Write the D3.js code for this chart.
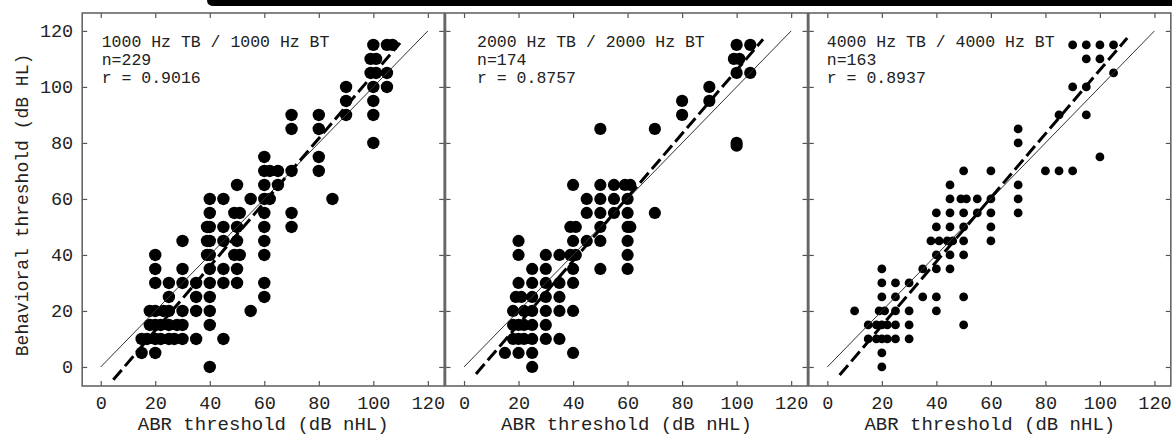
<!DOCTYPE html>
<html><head><meta charset="utf-8">
<script src="https://cdn.jsdelivr.net/npm/d3@7/dist/d3.min.js"></script>
<style>body{margin:0;background:#fff;} svg{display:block;}</style>
</head><body>
<script>
// ---- data ----
const panelTitles = ["1000 Hz TB / 1000 Hz BT", "2000 Hz TB / 2000 Hz BT", "4000 Hz TB / 4000 Hz BT"];
const sampleSizes = ["n=229", "n=174", "n=163"];
const correlations = ["r = 0.9016", "r = 0.8757", "r = 0.8937"];
const xTicks = [0, 20, 40, 60, 80, 100, 120];
const yTicks = [0, 20, 40, 60, 80, 100, 120];
const xLabel = "ABR threshold (dB nHL)";
const yLabel = "Behavioral threshold (dB HL)";

// [ABR threshold, behavioral threshold]
const points1000 = [
  [100,115],[105,115],[107,115],[99,110],[101,110],[99,105],[101,105],[105,105],
  [100,100],[105,100],[90,100],[90,95],[100,95],[90,90],[100,90],[80,90],[70,90],
  [80,85],[70,85],[100,80],[80,75],[60,75],[80,70],[70,70],[65,70],[60,70],[62,70],
  [65,65],[60,65],[50,65],[85,60],[60,60],[62,60],[55,60],[45,60],[40,60],
  [70,55],[60,55],[49,55],[51,55],[40,55],[70,50],[60,50],[50,50],[45,50],[40,50],[39,50],
  [60,45],[50,45],[45,45],[40,45],[39,45],[30,45],
  [60,40],[49,40],[51,40],[40,40],[39,40],[20,40],
  [50,35],[45,35],[40,35],[30,35],[20,35],
  [60,30],[50,30],[45,30],[40,30],[35,30],[30,30],[25,30],[20,30],
  [60,25],[40,25],[35,25],[25,25],
  [55,20],[40,20],[35,20],[30,20],[25,20],[23,20],[20,20],[18,20],
  [40,15],[30,15],[28,15],[25,15],[22,15],[20,15],[18,15],
  [45,10],[35,10],[30,10],[27,10],[25,10],[22,10],[20,10],[17,10],[15,10],
  [20,5],[15,5],[40,0]
];
const points2000 = [
  [100,115],[105,115],[99,110],[101,110],[100,105],[105,105],[90,100],[90,95],[80,95],
  [80,90],[50,85],[70,85],[100,80],[100,79],
  [40,65],[50,65],[55,65],[59,65],[61,65],[45,60],[50,60],[55,60],[60,60],
  [45,55],[50,55],[55,55],[60,55],[70,55],[39,50],[41,50],[50,50],[60,50],[61,50],
  [40,45],[45,45],[50,45],[60,45],[20,45],
  [20,40],[30,40],[35,40],[39,40],[41,40],[60,40],
  [25,35],[30,35],[40,35],[50,35],[60,35],
  [20,30],[25,30],[30,30],[35,30],[40,30],
  [19,25],[21,25],[25,25],[30,25],[35,25],
  [18,20],[22,20],[25,20],[30,20],[35,20],[40,20],
  [18,15],[20,15],[22,15],[25,15],[30,15],
  [18,10],[20,10],[22,10],[25,10],[30,10],[35,10],
  [15,5],[20,5],[25,5],[40,5],[25,0]
];
const points4000 = [
  [90,115],[95,115],[100,115],[105,115],[95,110],[100,110],[105,105],[90,100],[95,100],
  [85,90],[95,90],[70,85],[70,80],[100,75],[80,70],[85,70],[90,70],[50,70],[60,70],
  [45,65],[70,65],[45,60],[49,60],[51,60],[55,60],[60,60],[70,60],
  [40,55],[45,55],[50,55],[55,55],[60,55],[70,55],[40,50],[45,50],[50,50],[60,50],
  [38,45],[41,45],[44,45],[46,45],[50,45],[60,45],[40,40],[45,40],[50,40],
  [35,35],[40,35],[45,35],[20,35],[20,30],[25,30],[30,30],
  [20,25],[25,25],[35,25],[40,25],[50,25],
  [10,20],[19,20],[21,20],[25,20],[30,20],[40,20],
  [15,15],[18,15],[20,15],[22,15],[25,15],[30,15],[50,15],
  [15,10],[18,10],[20,10],[22,10],[25,10],[30,10],[20,5],[20,0]
];
const panelPoints = [points1000, points2000, points4000];
// regression (dashed) line end points per panel
const fitLines = [[[4.6,-4.6],[109.8,115.7]], [[4.4,-2.5],[109.7,117]], [[4.5,-2.9],[110,117.5]]];
const identityLine = [[0,0],[120,120]];

// ---- layout ----
const W = 1172, H = 439;
const panelLeft = [82.2, 445.5, 808.8], panelW = 362, plotTop = 13, plotBottom = 386;
const markerR = [6.2, 6.1, 4.4];
const textOffset = [19.5, 31.5, 18];
const font = "'Liberation Mono', 'DejaVu Sans Mono', monospace";

const svg = d3.select("body").append("svg").attr("width", W).attr("height", H);
svg.append("rect").attr("width", W).attr("height", H).attr("fill", "#fff");

// black bar artefact at the top
svg.append("path").attr("d", `M207,0 H${W} V6 H214 Q207,6 207,0 Z`).attr("fill", "#000");

const y = d3.scaleLinear().domain([-6.8, 126.4]).range([plotBottom, plotTop]);

panelPoints.forEach((pts, i) => {
  const L = panelLeft[i];
  const x = d3.scaleLinear().domain([-6.8, 126]).range([L, L + panelW]);
  const g = svg.append("g");

  const styleAxis = sel => {
    sel.select(".domain").remove();
    sel.selectAll(".tick line").attr("stroke", "#555").attr("stroke-width", 1.2);
    sel.selectAll(".tick text").attr("fill", "#222").style("font-family", font).style("font-size", "18.5px");
  };

  g.append("g").attr("transform", `translate(0,${plotBottom})`)
    .call(d3.axisBottom(x).tickValues(xTicks).tickSize(-5).tickSizeOuter(0).tickPadding(10))
    .call(styleAxis);
  g.append("g").attr("transform", `translate(0,${plotTop})`)
    .call(d3.axisTop(x).tickValues(xTicks).tickSize(-5).tickSizeOuter(0).tickFormat(""))
    .call(styleAxis);
  const left = d3.axisLeft(y).tickValues(yTicks).tickSize(-5).tickSizeOuter(0).tickPadding(9);
  if (i > 0) left.tickFormat("");
  g.append("g").attr("transform", `translate(${L},0)`).call(left).call(styleAxis);
  g.append("g").attr("transform", `translate(${L + panelW},0)`)
    .call(d3.axisRight(y).tickValues(yTicks).tickSize(-5).tickSizeOuter(0).tickFormat(""))
    .call(styleAxis);

  g.append("rect").attr("x", L).attr("y", plotTop).attr("width", panelW).attr("height", plotBottom - plotTop)
    .attr("fill", "none").attr("stroke", "#666").attr("stroke-width", 1.6);

  const line = d3.line().x(d => x(d[0])).y(d => y(d[1]));

  g.append("g").selectAll("circle").data(pts).join("circle")
    .attr("cx", d => x(d[0])).attr("cy", d => y(d[1])).attr("r", markerR[i]).attr("fill", "#000");

  g.append("path").attr("d", line(identityLine)).attr("stroke", "#333").attr("stroke-width", 1).attr("fill", "none");
  g.append("path").attr("d", line(fitLines[i])).attr("stroke", "#000").attr("stroke-width", 3)
    .attr("stroke-dasharray", "13,5").attr("fill", "none");

  const tx = L + textOffset[i];
  [panelTitles[i], sampleSizes[i], correlations[i]].forEach((t, k) => {
    g.append("text").attr("x", tx).attr("y", 47 + k * 18).text(t)
      .attr("fill", "#222").style("font-family", font).style("font-size", "16.5px");
  });

  g.append("text").attr("x", L + panelW / 2).attr("y", 430).attr("text-anchor", "middle")
    .text(xLabel).attr("fill", "#222").style("font-family", font).style("font-size", "19px");
});

svg.append("text").attr("transform", "translate(28,205) rotate(-90)").attr("text-anchor", "middle")
  .text(yLabel).attr("fill", "#222").style("font-family", font).style("font-size", "18px");
</script>
</body></html>
